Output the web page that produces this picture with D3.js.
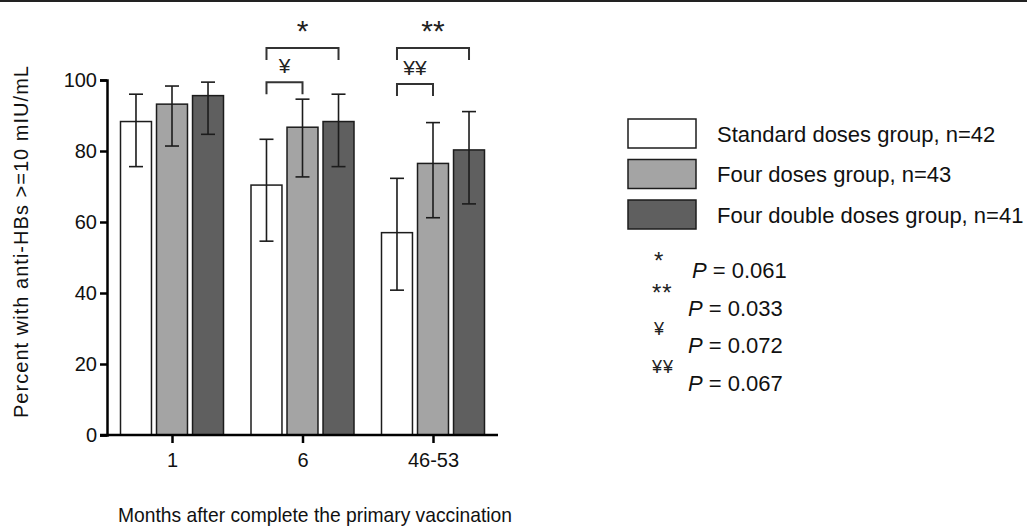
<!DOCTYPE html>
<html>
<head>
<meta charset="utf-8">
<script src="https://cdn.jsdelivr.net/npm/d3@7"></script>
<style>
	body { margin: 0; background: #fff; }
	svg { display: block; font-family: "Liberation Sans", Arial, sans-serif; }
</style>
</head>
<body>
<div id="canvas"></div>
<script>
	// Chart data
	var months = ['1', '6', '46-53'];
	var groups = ['Standard doses group, n=42', 'Four doses group, n=43', 'Four double doses group, n=41'];
	var standardVals = [88.3, 70.4, 57.0],
		standardLow = [75.6, 54.6, 40.8],
		standardHigh = [96.0, 83.3, 72.3];
	var fourVals = [93.2, 86.7, 76.5],
		fourLow = [81.4, 72.7, 61.2],
		fourHigh = [98.3, 94.6, 88.0];
	var doubleVals = [95.6, 88.3, 80.3],
		doubleLow = [84.7, 75.6, 65.1],
		doubleHigh = [99.4, 96.0, 91.1];
	var yTicks = [0, 20, 40, 60, 80, 100];

	// significance brackets: month, from group, to group, level, mark
	var bracketMonths = ['6', '6', '46-53', '46-53'],
		bracketFrom = [0, 0, 0, 0],
		bracketTo = [2, 1, 2, 1],
		bracketLevels = [109, 99.4, 109, 98.9],
		bracketMarks = ['*', '\u00a5', '**', '\u00a5\u00a5'];
	var pMarks = ['*', '**', '\u00a5', '\u00a5\u00a5'],
		pValues = ['0.061', '0.033', '0.072', '0.067'];

	var width = 1027, height = 527,
		fills = ['#ffffff', '#a4a4a4', '#5f5f5f'],
		ink = '#1c1c1c';

	var svg = d3.select('#canvas').append('svg')
		.attr('width', width)
		.attr('height', height);

	// top rule
	svg.append('line')
		.attr('x1', 0).attr('x2', width)
		.attr('y1', 1).attr('y2', 1)
		.attr('stroke', '#222').attr('stroke-width', 2);

	var y = d3.scaleLinear().domain([0, 100]).range([435, 80]);
	var x0 = d3.scalePoint().domain(months).range([172, 433]);
	var x1 = d3.scaleBand().domain(d3.range(3)).range([-51.5, 51.5]).paddingInner(0.14);

	var rows = months.map(function(m, i) {
		return [
			{ month: m, g: 0, v: standardVals[i], lo: standardLow[i], hi: standardHigh[i] },
			{ month: m, g: 1, v: fourVals[i], lo: fourLow[i], hi: fourHigh[i] },
			{ month: m, g: 2, v: doubleVals[i], lo: doubleLow[i], hi: doubleHigh[i] }
		];
	});
	var bars = d3.merge(rows);

	function cx(d) {
		return x0(d.month) + x1(d.g) + x1.bandwidth() / 2;
	}

	// bars
	svg.append('g').selectAll('rect')
		.data(bars)
		.enter().append('rect')
		.attr('x', function(d) { return x0(d.month) + x1(d.g); })
		.attr('y', function(d) { return y(d.v); })
		.attr('width', x1.bandwidth())
		.attr('height', function(d) { return y(0) - y(d.v); })
		.attr('fill', function(d) { return fills[d.g]; })
		.attr('stroke', ink)
		.attr('stroke-width', 1.5);

	// error bars
	var err = svg.append('g').attr('stroke', ink).attr('stroke-width', 1.6);
	err.selectAll('.stem').data(bars).enter().append('line')
		.attr('x1', cx).attr('x2', cx)
		.attr('y1', function(d) { return y(d.lo); })
		.attr('y2', function(d) { return y(d.hi); });
	err.selectAll('.cap-hi').data(bars).enter().append('line')
		.attr('x1', function(d) { return cx(d) - 7; })
		.attr('x2', function(d) { return cx(d) + 7; })
		.attr('y1', function(d) { return y(d.hi); })
		.attr('y2', function(d) { return y(d.hi); });
	err.selectAll('.cap-lo').data(bars).enter().append('line')
		.attr('x1', function(d) { return cx(d) - 7; })
		.attr('x2', function(d) { return cx(d) + 7; })
		.attr('y1', function(d) { return y(d.lo); })
		.attr('y2', function(d) { return y(d.lo); });

	// axes
	var yAxis = svg.append('g')
		.attr('transform', 'translate(107,0)')
		.call(d3.axisLeft(y).tickValues(yTicks).tickSize(7).tickPadding(3));
	var xAxis = svg.append('g')
		.attr('transform', 'translate(0,435)')
		.call(d3.axisBottom(x0).tickSize(8).tickPadding(6));
	xAxis.select('.domain').attr('d', 'M100,0H498');
	[yAxis, xAxis].forEach(function(a) {
		a.select('.domain').attr('stroke', '#000').attr('stroke-width', 2.5);
		a.selectAll('.tick line').attr('stroke', '#000').attr('stroke-width', 2.5);
		a.selectAll('.tick text')
			.attr('fill', '#111')
			.style('font-size', '20px')
			.style('font-family', '"Liberation Sans", Arial, sans-serif');
	});
	xAxis.selectAll('.tick text').attr('dy', '0.9em');

	// axis titles
	svg.append('text')
		.attr('transform', 'translate(28,242) rotate(-90)')
		.attr('text-anchor', 'middle')
		.attr('textLength', 352)
		.attr('lengthAdjust', 'spacing')
		.style('font-size', '20px')
		.attr('fill', '#111')
		.text('Percent with anti-HBs >=10 mIU/mL');
	svg.append('text')
		.attr('x', 315).attr('y', 522)
		.attr('text-anchor', 'middle')
		.attr('textLength', 394)
		.attr('lengthAdjust', 'spacingAndGlyphs')
		.style('font-size', '21px')
		.attr('fill', '#111')
		.text('Months after complete the primary vaccination');

	// significance brackets
	var br = svg.append('g');
	bracketMonths.forEach(function(m, i) {
		var xa = x0(m) + x1(bracketFrom[i]) + x1.bandwidth() / 2,
			xb = x0(m) + x1(bracketTo[i]) + x1.bandwidth() / 2,
			yl = y(bracketLevels[i]),
			star = bracketMarks[i].charAt(0) === '*';
		br.append('path')
			.attr('d', 'M' + xa + ',' + (yl + 12) + 'V' + yl + 'H' + xb + 'V' + (yl + 12))
			.attr('fill', 'none')
			.attr('stroke', '#333')
			.attr('stroke-width', 2);
		br.append('text')
			.attr('x', (xa + xb) / 2)
			.attr('y', star ? yl - 7 : yl - 9)
			.attr('text-anchor', 'middle')
			.style('font-size', star ? '30px' : '21px')
			.attr('fill', '#222')
			.text(bracketMarks[i]);
	});

	// legend
	var legend = svg.append('g').attr('transform', 'translate(628,119)');
	var items = legend.selectAll('g').data(groups).enter().append('g')
		.attr('transform', function(d, i) { return 'translate(0,' + (i * 40.5) + ')'; });
	items.append('rect')
		.attr('width', 68).attr('height', 29)
		.attr('fill', function(d, i) { return fills[i]; })
		.attr('stroke', ink).attr('stroke-width', 1.5);
	items.append('text')
		.attr('x', 89).attr('y', 15).attr('dy', '0.35em')
		.style('font-size', '22px')
		.attr('fill', '#111')
		.text(function(d) { return d; });

	// p-value notes
	var notes = svg.append('g').attr('transform', 'translate(650,270)');
	var note = notes.selectAll('g').data(pMarks).enter().append('g')
		.attr('transform', function(d, i) { return 'translate(0,' + (i * 37.5) + ')'; });
	note.append('text')
		.attr('x', function(d) { return d.length > 1 ? 2 : 4; })
		.attr('y', function(d, i) { return d.charAt(0) === '*' ? (i === 0 ? -1 : -7) : -10; })
		.style('font-size', function(d) { return d.charAt(0) === '*' ? '24px' : '18px'; })
		.style('letter-spacing', function(d) { return d.length > 1 ? '1px' : null; })
		.attr('fill', '#222')
		.text(function(d) { return d; });
	var pt = note.append('text')
		.attr('x', function(d, i) { return i === 0 ? 42 : 38; })
		.attr('y', 8)
		.style('font-size', '22px')
		.attr('fill', '#111');
	pt.append('tspan').style('font-style', 'italic').text('P');
	pt.append('tspan').text(function(d, i) { return ' = ' + pValues[i]; });
</script>
</body>
</html>
